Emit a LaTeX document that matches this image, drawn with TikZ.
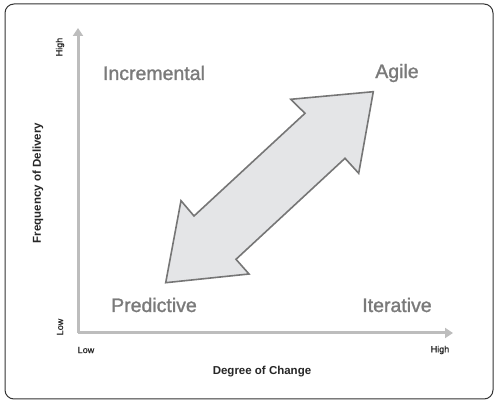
\documentclass[tikz,border=0pt]{standalone}
\usepackage{fontspec}
\setmainfont{Liberation Sans}
\newfontfamily\quadfont[FakeBold=1.3]{Liberation Sans}
\newfontfamily\tickfont[FakeBold=0.8]{Liberation Sans}
\usetikzlibrary{arrows,arrows.meta}
\definecolor{axisgray}{HTML}{BDBDBD}
\definecolor{labelgray}{HTML}{7A7A7A}
\definecolor{arrowfill}{HTML}{E4E5E7}
\definecolor{arrowline}{HTML}{767676}

\begin{document}
\begin{tikzpicture}[x=1pt,y=-1pt,
quad/.style={font=\quadfont\fontsize{19.5}{22}\selectfont,text=labelgray},
axistitle/.style={font=\fontsize{11.5}{13}\selectfont\bfseries,text=black!85},
tick/.style={font=\tickfont\fontsize{9}{10}\selectfont,text=black!85,inner sep=1pt},
axis/.style={-{Triangle[length=8pt,width=10pt]},line width=3pt,draw=axisgray},
bigarrow/.style={fill=arrowfill,draw=arrowline,line width=1.6pt,line join=miter} ]

\useasboundingbox (0,0) rectangle (501,403);

\draw[line width=1pt,draw=black!80,rounded corners=9pt] (5,4) rectangle (493,399);

\coordinate (O) at (78,333);
\coordinate (Ytop) at (78,28);
\coordinate (Xend) at (453,333);

\draw[axis] (O) -- (Ytop);
\draw[axis] (O) -- (Xend);

\node[tick,rotate=90] (yhigh) at (60,47) {High};
\node[tick,rotate=90] (ylow) at (60,327) {Low};
\node[tick] (xlow) at (86,350) {Low};
\node[tick] (xhigh) at (440,350) {High};

\node[axistitle,rotate=90] (ytitle) at (38,183) {Frequency of Delivery};
\node[axistitle] (xtitle) at (262,372) {Degree of Change};

\node[quad] (incr) at (154,73) {Incremental};
\node[quad] (agile) at (397,73) {Agile};
\node[quad] (pred) at (154,305) {Predictive};
\node[quad] (iter) at (397,305) {Iterative};

% double headed arrow
\draw[bigarrow] (373.3,91.7) -- (290.7,99.3) -- (305,113.3) -- (194,216) -- (181,200.7)
  -- (165.7,282.7) -- (249,274) -- (236,259.3) -- (345,158.3) -- (358.7,173.3) -- cycle;

\end{tikzpicture}
\end{document}
